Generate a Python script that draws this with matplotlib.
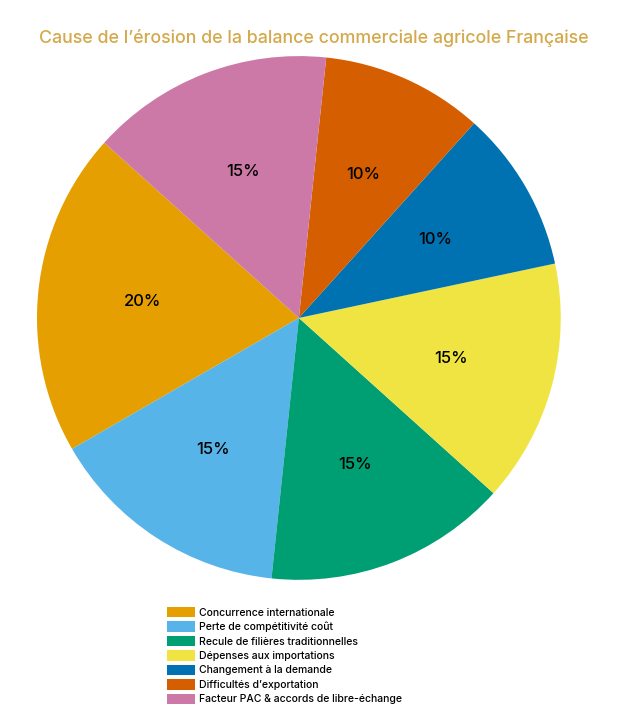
import matplotlib
matplotlib.use("Agg")
import matplotlib.pyplot as plt

categories = ["Concurrence internationale", "Perte de compétitivité coût",
              "Recule de filières traditionnelles", "Dépenses aux importations",
              "Changement à la demande", "Difficultés d\u2019exportation",
              "Facteur PAC & accords de libre-échange"]
values = [20, 15, 15, 15, 10, 10, 15]
colors = ["#E69F00", "#56B4E9", "#009E73", "#F0E442", "#0072B2", "#D55E00", "#CC79A7"]

plt.rcParams['font.family'] = ['Inter', 'DejaVu Sans']

fig = plt.figure(figsize=(6.28, 7.21), dpi=100)
ax = fig.add_axes([0.0589, 0.1956, 0.834, 0.7268])

wedges, texts, autotexts = ax.pie(values, colors=colors, startangle=138.0, counterclock=True,
                                  autopct='%d%%', pctdistance=0.6,
                                  textprops={'fontsize': 12, 'color': 'black',
                                             'fontweight': 'medium'})
ax.set_aspect('equal')
ax.set_xlim(-1, 1)
ax.set_ylim(-1, 1)

fig.text(0.499, 1 - 38 / 721, "Cause de l\u2019érosion de la balance commerciale agricole Française",
         ha='center', va='center', fontsize=12.8, color='#D4A94B', fontweight='medium')

fig.legend(wedges, categories, loc='upper left', bbox_to_anchor=(167 / 628, 1 - 607 / 721),
           frameon=False, handlelength=2.7, handleheight=1.15,
           labelspacing=0.36, handletextpad=0.4, borderpad=0, borderaxespad=0,
           prop={'size': 7.5, 'weight': 'medium'})

fig.savefig("out.png", dpi=100)
